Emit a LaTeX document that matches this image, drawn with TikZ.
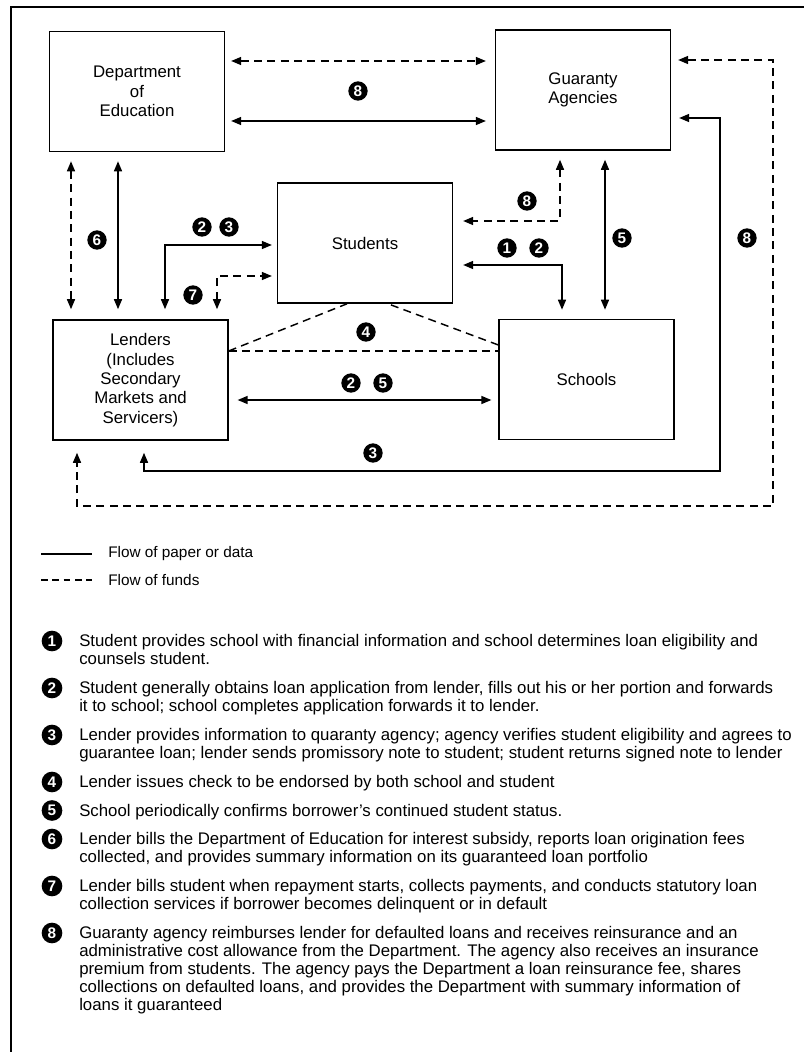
\documentclass[tikz,border=0pt]{standalone}
\usepackage{fontspec}
\setmainfont{Liberation Sans}
\usetikzlibrary{arrows.meta}
\begin{document}
\begin{tikzpicture}[x=0.75pt, y=-0.75pt, >={Triangle[length=7.5pt,width=6pt]},
    entity/.style={draw, line width=1.2pt, minimum width=131pt, minimum height=90pt, align=center, font=\fontsize{12.6}{14.5}\selectfont},
    paper/.style={line width=1.1pt},
    funds/.style={line width=1.1pt, dash pattern=on 6pt off 4pt},
    num/.style={circle, fill=black, text=white, inner sep=0pt, minimum size=14.5pt, font=\fontsize{11.5}{11.5}\selectfont\bfseries},
    item/.style={anchor=north west, inner sep=0pt, align=left, font=\fontsize{12.6}{13.5}\selectfont}]
    \useasboundingbox (0,0) rectangle (804,1052);
    \draw[line width=1pt] (11,1052) -- (11,7) -- (804,7);
    % the five parties
    \node[entity] (dept) at (137,91.5) {Department\\of\\Education};
    \node[entity] (guar) at (583,90) {Guaranty\\Agencies};
    \node[entity] (stud) at (365,243) {Students};
    \node[entity] (lend) at (140.5,380) {Lenders\\(Includes\\Secondary\\Markets and\\Servicers)};
    \node[entity] (school) at (586.5,379.5) {Schools};
    % flows
    \draw[funds,<->,shorten <=4.5pt,shorten >=6.75pt] (dept.east |- 0,61) -- (guar.west |- 0,61);
    \draw[paper,<->,shorten <=4.5pt,shorten >=6.75pt] (dept.east |- 0,121) -- (guar.west |- 0,121);
    \draw[funds,<->,shorten <=6.75pt,shorten >=7.5pt] (dept.south -| 71,0) -- (lend.north -| 71,0);
    \draw[paper,<->,shorten <=6.75pt,shorten >=7.5pt] (dept.south -| 118,0) -- (lend.north -| 118,0);
    \draw[paper,<->,shorten <=7.5pt,shorten >=3.75pt] (lend.north -| 165,0) |- (stud.west |- 0,245);
    \draw[funds,<->,shorten <=7.5pt,shorten >=3.75pt] (lend.north -| 217,0) |- (stud.west |- 0,276);
    \draw[funds,<->,shorten <=6.75pt,shorten >=7.5pt] (guar.south -| 560,0) |- (stud.east |- 0,221);
    \draw[paper,<->,shorten <=7.5pt,shorten >=6.75pt] (stud.east |- 0,265) -| (school.north -| 562,0);
    \draw[paper,<->,shorten <=6.75pt,shorten >=6.75pt] (guar.south -| 605,0) -- (school.north -| 605,0);
    \draw[paper,<->,shorten <=6.75pt,shorten >=5.25pt] (lend.east |- 0,400) -- (school.west |- 0,400);
    \draw[paper,<->,shorten <=6pt,shorten >=9pt] (guar.east |- 0,118) -| (720,471) -| (lend.south -| 144,0);
    \draw[funds,<->,shorten <=5.25pt,shorten >=9pt] (guar.east |- 0,60) -| (773,506) -| (lend.south -| 77,0);
    \draw[funds] (lend.east |- 0,351) -- (stud.south -| 347,0);
    \draw[funds] (lend.east |- 0,351) -- (school.west |- 0,351);
    \draw[funds] (school.west |- 0,345) -- (stud.south -| 388,0);
    % step numbers on the flows
    \node[num] (n8a) at (358,91) {8};
    \node[num] (n6) at (97,240) {6};
    \node[num] (n2a) at (202,227) {2};
    \node[num] (n3a) at (229,227) {3};
    \node[num] (n7) at (193,295) {7};
    \node[num] (n8b) at (527,201) {8};
    \node[num] (n1a) at (507,248) {1};
    \node[num] (n2b) at (539,248) {2};
    \node[num] (n5a) at (622,238) {5};
    \node[num] (n8c) at (747,238) {8};
    \node[num] (n4) at (366,332) {4};
    \node[num] (n2c) at (351,383) {2};
    \node[num] (n5b) at (383,383) {5};
    \node[num] (n3b) at (373,453) {3};
    % legend
    \draw[paper,line width=0.8pt] (41,554) -- (92,554);
    \node[anchor=west, inner sep=0pt, font=\fontsize{11.5}{12}\selectfont] (lgpaper) at (108,554) {Flow of paper or data};
    \draw[funds,line width=0.8pt,dash pattern=on 5pt off 3.5pt] (41,580) -- (92,580);
    \node[anchor=west, inner sep=0pt, font=\fontsize{11.5}{12}\selectfont] (lgfunds) at (108,580) {Flow of funds};
    % steps
    \node[num, minimum size=15.5pt] (s1) at (52,641) {1};
    \node[item] (t1) at (79,634.5) {Student provides school with financial information and school determines loan eligibility and\\counsels student.};
    \node[num, minimum size=15.5pt] (s2) at (52,688) {2};
    \node[item] (t2) at (79,681.5) {Student generally obtains loan application from lender, fills out his or her portion and forwards\\it to school; school completes application forwards it to lender.};
    \node[num, minimum size=15.5pt] (s3) at (52,735) {3};
    \node[item] (t3) at (79,728.5) {Lender provides information to quaranty agency; agency verifies student eligibility and agrees to\\guarantee loan; lender sends promissory note to student; student returns signed note to lender};
    \node[num, minimum size=15.5pt] (s4) at (52,782) {4};
    \node[item] (t4) at (79,775.5) {Lender issues check to be endorsed by both school and student};
    \node[num, minimum size=15.5pt] (s5) at (52,810.5) {5};
    \node[item] (t5) at (79,804) {School periodically confirms borrower's continued student status.};
    \node[num, minimum size=15.5pt] (s6) at (52,839) {6};
    \node[item] (t6) at (79,832.5) {Lender bills the Department of Education for interest subsidy, reports loan origination fees\\collected, and provides summary information on its guaranteed loan portfolio};
    \node[num, minimum size=15.5pt] (s7) at (52,886) {7};
    \node[item] (t7) at (79,879.5) {Lender bills student when repayment starts, collects payments, and conducts statutory loan\\collection services if borrower becomes delinquent or in default};
    \node[num, minimum size=15.5pt] (s8) at (52,933) {8};
    \node[item] (t8) at (79,926.5) {Guaranty agency reimburses lender for defaulted loans and receives reinsurance and an\\administrative cost allowance from the Department. The agency also receives an insurance\\premium from students. The agency pays the Department a loan reinsurance fee, shares\\collections on defaulted loans, and provides the Department with summary information of\\loans it guaranteed};
\end{tikzpicture}
\end{document}
